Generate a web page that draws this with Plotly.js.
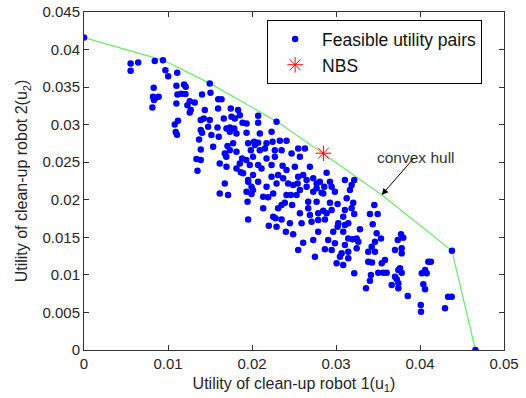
<!DOCTYPE html>
<html>
<head>
<meta charset="utf-8">
<script src="https://cdn.plot.ly/plotly-3.0.1.min.js"></script>
<style>html,body{margin:0;padding:0;background:#fff;}#chart{width:526px;height:398px;}</style>
</head>
<body>
<div id="chart"></div>
<script>
// Feasible utility pairs (u1, u2)
const feasX = [
0.0000,0.00555,0.00555,0.00645,0.00842,0.00940,0.00969,0.01002,0.01110,0.00830,0.00821,0.00853,0.00833,0.00889,0.00814,
0.01100,0.01191,0.01211,0.01112,0.01160,0.01208,0.01100,0.01259,0.01318,0.01231,0.01271,0.01259,0.01119,0.01080,0.01092,0.01107,
0.01405,0.01438,0.01390,0.01390,0.01405,0.01370,0.01390,0.01339,0.01390,0.01351,0.01497,0.01506,0.01637,0.01598,
0.01596,0.01747,0.01834,0.01756,0.01795,0.01664,0.01497,0.01477,0.01589,0.01696,0.01736,0.01789,0.01887,0.01935,0.02073,0.02292,
0.01517,0.01604,0.01815,0.01935,0.02093,0.02233,0.02332,0.02411,0.01537,0.01708,0.01736,0.01676,0.01694,0.01815,
0.02025,0.02034,0.02073,0.01986,0.02093,0.02153,0.02272,0.02352,0.02245,0.01882,0.01932,0.02013,0.02173,0.02272,0.02471,
0.01616,0.01696,0.01815,0.01867,0.01974,0.02073,0.02113,0.02233,0.02364,0.02411,0.02510,
0.01676,0.01954,0.02013,0.02073,0.01994,0.02233,0.02311,0.02371,0.02292,0.02430,0.02490,
0.01426,0.01855,0.02073,0.01736,0.01775,0.01954,0.01855,0.01894,0.01954,0.02013,0.01935,0.01616,0.01715,
0.02173,0.02550,0.02630,0.02570,0.02689,0.02888,0.03106,0.03217,0.02550,0.02650,0.02808,0.02928,0.02173,0.02570,0.02769,0.02848,0.03166,0.03127,
0.02609,0.02729,0.02543,0.02650,0.02860,0.02948,0.03186,0.02769,
0.01994,0.01947,0.02133,0.02192,0.02252,0.02411,0.02463,0.02133,0.02311,0.02352,0.02391,0.02478,0.01954,0.02252,0.02280,0.02352,0.02200,0.02292,0.02451,0.02403,0.02490,
0.02531,0.02729,0.02829,0.02987,0.02669,0.02769,0.02928,0.03019,0.03205,0.03456,0.02570,0.02669,0.02689,0.02788,0.02848,0.02888,0.02948,0.03106,0.03186,0.03217,0.03086,0.03404,0.03496,
0.02590,0.02709,0.02788,0.02868,0.03027,0.03106,0.03146,0.03437,0.02788,0.02967,0.03019,0.03086,0.03285,0.03246,0.03198,0.03146,0.03484,0.03536,
0.02907,0.02609,0.02729,0.02987,0.03106,0.03265,0.03464,0.03425,0.03384,0.03464,0.02550,0.02868,0.02948,0.03067,0.03146,0.03246,0.03047,0.02749,0.03146,
0.03544,0.03007,0.03086,0.03384,0.03428,0.03503,0.03563,0.03217,0.03416,0.03404,0.03357,
0.03774,0.03801,0.03735,0.03782,0.03702,0.03782,0.03583,0.03762,0.03742,0.03782,0.03603,0.03702,0.03723,0.03663,0.03742,0.03742,
0.04099,0.04130,0.04060,0.04021,0.04080,0.04040,0.04060,0.03854,0.04378,0.04334,0.04009,0.04012,0.04298,0.04380,0.04660
];
const feasY = [
0.04160,0.03815,0.03717,0.03828,0.03846,0.03859,0.03726,0.03646,0.03690,0.03490,0.03373,0.03357,0.03327,0.03371,0.03230,
0.03517,0.03536,0.03506,0.03403,0.03411,0.03407,0.03283,0.03313,0.03296,0.03260,0.03194,0.03163,0.03051,0.03003,0.02901,0.02865,
0.03403,0.03194,0.03061,0.02928,0.02892,0.02804,0.02671,0.02542,0.02528,0.02386,0.03549,0.03424,0.03340,0.03340,
0.03216,0.03216,0.03194,0.03105,0.03083,0.03083,0.03061,0.02971,0.02963,0.02950,0.02963,0.02950,0.03025,0.03017,0.03118,0.03038,
0.02861,0.02838,0.02884,0.02892,0.02884,0.02905,0.02785,0.02785,0.02705,0.02715,0.02661,0.02617,0.02572,0.02639,
0.02772,0.02728,0.02759,0.02661,0.02661,0.02684,0.02661,0.02661,0.02772,0.02551,0.02528,0.02572,0.02551,0.02572,0.02617,
0.02484,0.02439,0.02418,0.02365,0.02462,0.02462,0.02418,0.02462,0.02453,0.02395,0.02439,
0.02218,0.02262,0.02329,0.02240,0.02173,0.02306,0.02329,0.02285,0.02218,0.02218,0.02196,
0.03083,0.03127,0.03025,0.02905,0.02751,0.02751,0.02484,0.02352,0.02240,0.02129,0.02107,0.02085,0.02063,
0.02751,0.02684,0.02684,0.02572,0.02439,0.02359,0.02262,0.02262,0.02306,0.02262,0.02240,0.02240,0.02173,0.02129,0.02152,0.02085,0.02129,0.02019,
0.02329,0.02285,0.02218,0.02173,0.02173,0.02173,0.02196,0.02218,
0.02076,0.01973,0.02040,0.02032,0.02085,0.02063,0.02063,0.01886,0.01886,0.01930,0.01960,0.01930,0.01739,0.01774,0.01753,0.01739,0.01654,0.01641,0.01686,0.01574,0.01540,
0.02063,0.02107,0.02093,0.02107,0.01973,0.01973,0.01960,0.01943,0.01960,0.01930,0.01819,0.01886,0.01796,0.01819,0.01854,0.01819,0.01863,0.01863,0.01886,0.01810,0.01774,0.01810,0.01810,
0.01686,0.01707,0.01730,0.01739,0.01686,0.01663,0.01686,0.01673,0.01574,0.01574,0.01641,0.01574,0.01606,0.01486,0.01473,0.01486,0.01553,0.01486,
0.01464,0.01428,0.01464,0.01420,0.01397,0.01441,0.01441,0.01375,0.01308,0.01308,0.01331,0.01340,0.01331,0.01287,0.01308,0.01353,0.01242,0.01242,0.01220,
0.01154,0.01154,0.01131,0.01175,0.01164,0.01029,0.01029,0.01021,0.00998,0.00922,0.00821,
0.01540,0.01494,0.01464,0.01353,0.01331,0.01287,0.01198,0.01087,0.01065,0.01029,0.01029,0.00975,0.00941,0.00865,0.00888,0.00821,
0.01175,0.01175,0.01065,0.01021,0.01021,0.00874,0.00808,0.00719,0.00709,0.00709,0.00599,0.00510,0.00555,0.01320,0.00000
];
// Convex hull vertices
const hullX = [0.0000, 0.0094, 0.0150, 0.0233, 0.0354, 0.0438, 0.0466];
const hullY = [0.0416, 0.0386, 0.0355, 0.0302, 0.0207, 0.0132, 0.0000];
// Nash bargaining solution
const nbsX = [0.0285];
const nbsY = [0.0262];
// Annotation: label position and arrow target
const labelText = 'convex hull';
const labelX = 0.0395, labelY = 0.0256;
const arrowX = 0.03544, arrowY = 0.02063;

const FONT = 'Liberation Sans, Arial, sans-serif';
const traces = [
  {x: hullX, y: hullY, mode: 'lines', type: 'scatter', showlegend: false,
   line: {color: '#6aea6a', width: 1.2}, hoverinfo: 'skip'},
  {x: feasX, y: feasY, mode: 'markers', type: 'scatter', name: 'Feasible utility pairs',
   marker: {color: '#0000ff', size: 6.5, line: {width: 0}}},
  {x: nbsX, y: nbsY, mode: 'markers', type: 'scatter', name: 'NBS',
   marker: {symbol: 'asterisk-open', color: '#ff0000', size: 13, line: {color: '#ff0000', width: 1}}}
];
const axisCommon = {
  showgrid: false, zeroline: false, showline: true, linecolor: '#333', linewidth: 1,
  mirror: 'ticks', ticks: 'inside', ticklen: 5, tickcolor: '#333',
  tickfont: {family: FONT, size: 15, color: '#262626'}
};
const layout = {
  width: 526, height: 398,
  margin: {l: 84, r: 22, t: 12, b: 48},
  paper_bgcolor: '#fff', plot_bgcolor: '#fff',
  font: {family: FONT, color: '#262626'},
  xaxis: Object.assign({}, axisCommon, {
    range: [0, 0.05], dtick: 0.01, tick0: 0,
    title: {text: 'Utility of clean-up robot 1(u<sub>1</sub>)', font: {family: FONT, size: 16, color: '#262626'}, standoff: 6}
  }),
  yaxis: Object.assign({}, axisCommon, {
    range: [0, 0.045], dtick: 0.005, tick0: 0,
    title: {text: 'Utility of clean-up robot 2(u<sub>2</sub>)', font: {family: FONT, size: 16, color: '#262626'}, standoff: 10}
  }),
  legend: {x: 0.436, y: 0.976, xanchor: 'left', yanchor: 'top',
    bordercolor: '#000', borderwidth: 1, bgcolor: '#fff', itemwidth: 44,
    font: {family: FONT, size: 17.5, color: '#111'}, tracegroupgap: 0},
  annotations: [
    {x: labelX, y: labelY, xref: 'x', yref: 'y', text: labelText, showarrow: false,
     font: {family: FONT, size: 15.5, color: '#333'}},
    {x: arrowX, y: arrowY, xref: 'x', yref: 'y', text: '', showarrow: true,
     ax: 33, ay: -38, arrowhead: 2, arrowsize: 1.3, arrowwidth: 1, arrowcolor: '#000'}
  ],
  showlegend: true
};
Plotly.newPlot('chart', traces, layout, {displayModeBar: false, staticPlot: true});
</script>
</body>
</html>
